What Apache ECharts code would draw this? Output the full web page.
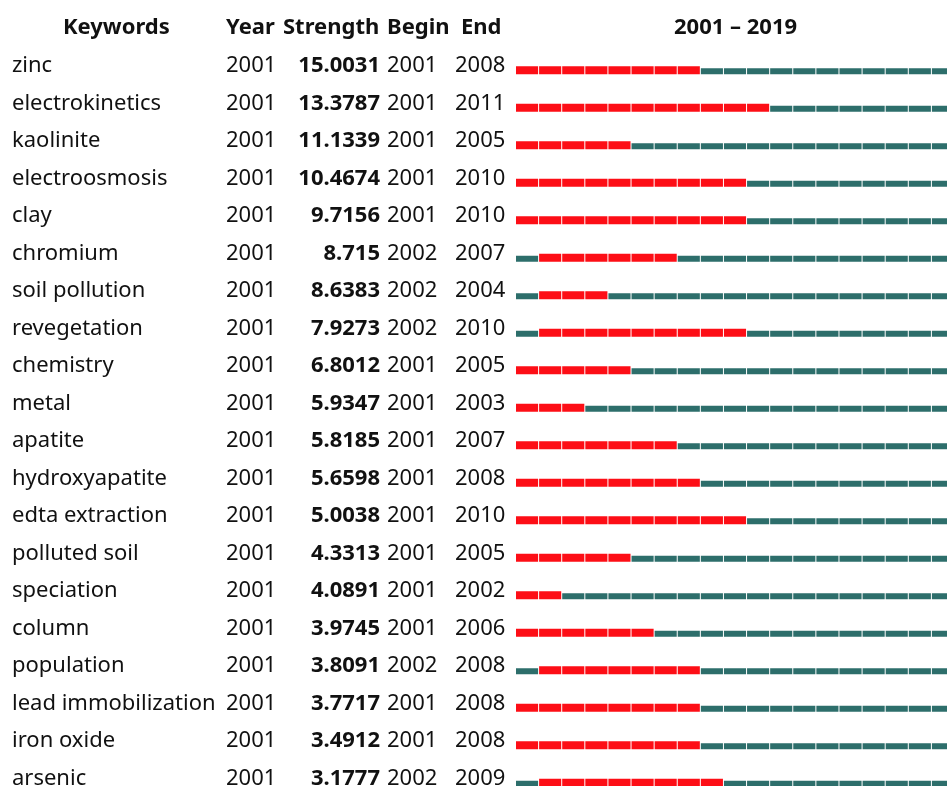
<!DOCTYPE html>
<html>
<head>
<meta charset="utf-8">
<script src="https://cdn.jsdelivr.net/npm/echarts@6/dist/echarts.min.js"></script>
<style>
  html, body { margin: 0; padding: 0; background: #fff; }
  #chart { width: 947px; height: 786px; }
</style>
</head>
<body>
<div id="chart"></div>
<script>
var keywords = ['zinc', 'electrokinetics', 'kaolinite', 'electroosmosis', 'clay', 'chromium',
  'soil pollution', 'revegetation', 'chemistry', 'metal', 'apatite', 'hydroxyapatite',
  'edta extraction', 'polluted soil', 'speciation', 'column', 'population',
  'lead immobilization', 'iron oxide', 'arsenic'];
var year = [2001, 2001, 2001, 2001, 2001, 2001, 2001, 2001, 2001, 2001,
  2001, 2001, 2001, 2001, 2001, 2001, 2001, 2001, 2001, 2001];
var strength = ['15.0031', '13.3787', '11.1339', '10.4674', '9.7156', '8.715', '8.6383', '7.9273',
  '6.8012', '5.9347', '5.8185', '5.6598', '5.0038', '4.3313', '4.0891', '3.9745', '3.8091',
  '3.7717', '3.4912', '3.1777'];
var begin = [2001, 2001, 2001, 2001, 2001, 2002, 2002, 2002, 2001, 2001,
  2001, 2001, 2001, 2001, 2001, 2001, 2002, 2001, 2001, 2002];
var end = [2008, 2011, 2005, 2010, 2010, 2007, 2004, 2010, 2005, 2003,
  2007, 2008, 2010, 2005, 2002, 2006, 2008, 2008, 2008, 2009];
var firstYear = 2001;
var lastYear = 2019;

var font = '"Noto Sans", "Noto Sans CJK SC", sans-serif';
var RED = '#fd0e16';
var TEAL = '#2d6e6b';

// one cell per keyword per year
var cells = [];
for (var i = 0; i < keywords.length; i++) {
  for (var y = firstYear; y <= lastYear; y++) {
    cells.push([y, i, (y >= begin[i] && y <= end[i]) ? 1 : 0]);
  }
}
var rows = keywords.map(function (k, i) { return [firstYear, i]; });

var chart = echarts.init(document.getElementById('chart'));

var option = {
  animation: false,
  backgroundColor: '#fff',
  grid: { left: 516, top: 45, width: 439, height: 750, outerBoundsMode: 'none' },
  xAxis: { type: 'value', min: firstYear, max: lastYear + 1, show: false },
  yAxis: { type: 'category', data: keywords, inverse: true, show: false },
  graphic: [
    { type: 'text', left: 63, top: 17, style: { text: 'Keywords', font: 'bold 22px ' + font, fill: '#111' } },
    { type: 'text', left: 226, top: 17, style: { text: 'Year', font: 'bold 22px ' + font, fill: '#111' } },
    { type: 'text', left: 283, top: 17, style: { text: 'Strength', font: 'bold 22px ' + font, fill: '#111' } },
    { type: 'text', left: 387, top: 17, style: { text: 'Begin', font: 'bold 22px ' + font, fill: '#111' } },
    { type: 'text', left: 461, top: 17, style: { text: 'End', font: 'bold 22px ' + font, fill: '#111' } },
    { type: 'text', left: 674, top: 17, style: { text: firstYear + ' \u2013 ' + lastYear, font: 'bold 22px ' + font, fill: '#111' } }
  ],
  series: [
    {
      type: 'custom',
      data: cells,
      renderItem: function (params, api) {
        var p0 = api.coord([api.value(0), api.value(1)]);
        var p1 = api.coord([api.value(0) + 1, api.value(1)]);
        var hot = api.value(2) === 1;
        var top = p0[1] + (hot ? 2.5 : 4.5);
        var bottom = p0[1] + 10.5;
        return {
          type: 'rect',
          shape: { x: p0[0], y: top, width: p1[0] - p0[0] - 1, height: bottom - top },
          style: { fill: hot ? RED : TEAL }
        };
      }
    },
    {
      type: 'custom',
      data: rows,
      renderItem: function (params, api) {
        var i = params.dataIndex;
        var cy = api.coord([api.value(0), api.value(1)])[1] + 2;
        function t(str, x, align, bold) {
          return {
            type: 'text', x: x, y: cy,
            style: {
              text: str, align: align, verticalAlign: 'middle', fill: '#111',
              font: (bold ? 'bold ' : '') + '22px ' + font
            }
          };
        }
        return {
          type: 'group',
          children: [
            t(keywords[i], 12, 'left'),
            t(String(year[i]), 226, 'left'),
            t(strength[i], 380, 'right', true),
            t(String(begin[i]), 387, 'left'),
            t(String(end[i]), 455, 'left')
          ]
        };
      }
    }
  ]
};
chart.setOption(option);
</script>
</body>
</html>
